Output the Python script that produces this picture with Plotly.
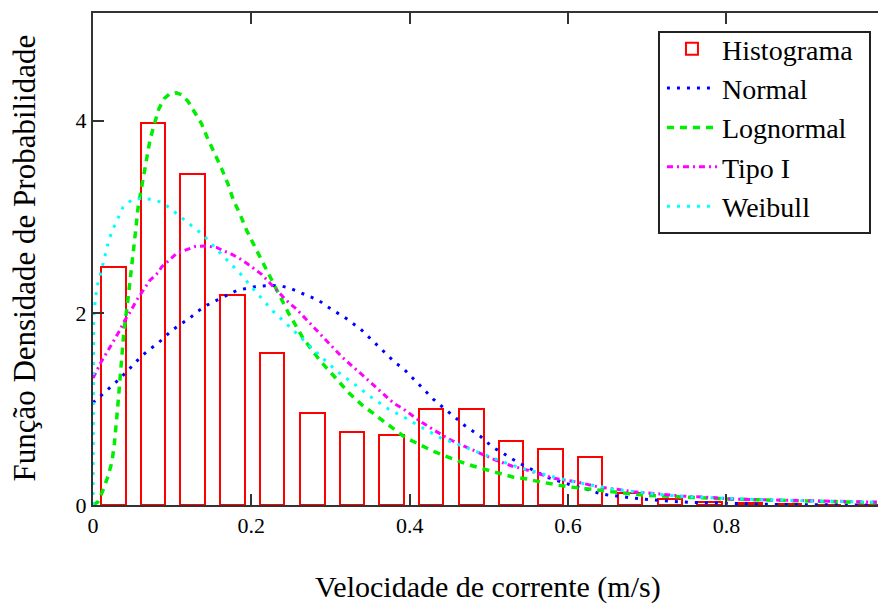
import plotly.graph_objects as go

# ---- Histogram (bin centers / densities) ----
bin_centers = [0.026, 0.076, 0.126, 0.176, 0.226, 0.277, 0.327, 0.377, 0.427, 0.478,
               0.528, 0.578, 0.628, 0.678, 0.729, 0.779, 0.829, 0.879, 0.929, 0.980]
hist_density = [2.48, 3.98, 3.44, 2.185, 1.585, 0.954, 0.763, 0.728, 0.999, 0.999,
                0.666, 0.583, 0.503, 0.125, 0.06, 0.028, 0.026, 0.01, 0.005, 0.005]
bin_width = 0.031

# ---- Normal ----
normal_x = [0.0, 0.009, 0.019, 0.032, 0.044, 0.059, 0.07, 0.083, 0.1, 0.111, 0.123, 0.133,
            0.144, 0.156, 0.169, 0.181, 0.194, 0.207, 0.224, 0.237, 0.249, 0.262, 0.275,
            0.285, 0.295, 0.307, 0.32, 0.338, 0.348, 0.37, 0.382, 0.392, 0.399, 0.408,
            0.421, 0.43, 0.437, 0.451, 0.459, 0.469, 0.48, 0.49, 0.498, 0.507, 0.517,
            0.527, 0.54, 0.55, 0.559, 0.573, 0.588, 0.6, 0.611, 0.624, 0.636, 0.649,
            0.664, 0.679, 0.691, 0.708, 0.733, 0.754, 0.784, 0.818, 0.86, 0.9, 0.95, 0.99]
normal_y = [1.065, 1.13, 1.2, 1.3, 1.4, 1.53, 1.61, 1.69, 1.82, 1.88, 1.95, 2.02,
            2.08, 2.13, 2.185, 2.23, 2.255, 2.275, 2.285, 2.28, 2.255, 2.21, 2.17,
            2.13, 2.07, 2.01, 1.94, 1.83, 1.75, 1.57, 1.48, 1.42, 1.36, 1.28,
            1.17, 1.1, 1.05, 0.96, 0.9, 0.83, 0.77, 0.71, 0.65, 0.59, 0.545,
            0.49, 0.43, 0.39, 0.35, 0.29, 0.25, 0.218, 0.19, 0.163, 0.13, 0.106,
            0.088, 0.076, 0.064, 0.05, 0.036, 0.028, 0.02, 0.012, 0.006, 0.003, 0.001, 0.0]

# ---- Lognormal ----
lognormal_x = [0.0, 0.006, 0.012, 0.019, 0.024, 0.027, 0.031, 0.034, 0.036, 0.039, 0.044,
               0.048, 0.053, 0.057, 0.061, 0.065, 0.068, 0.072, 0.077, 0.083, 0.09, 0.097,
               0.105, 0.112, 0.12, 0.127, 0.137, 0.144, 0.154, 0.163, 0.171, 0.177, 0.186,
               0.194, 0.203, 0.213, 0.221, 0.239, 0.248, 0.256, 0.265, 0.275, 0.286,
               0.299, 0.312, 0.324, 0.34, 0.354, 0.367, 0.381, 0.394, 0.411, 0.428,
               0.445, 0.46, 0.48, 0.498, 0.514, 0.53, 0.548, 0.565, 0.584, 0.6, 0.622,
               0.641, 0.66, 0.679, 0.7, 0.733, 0.776, 0.81, 0.834, 0.885, 0.931, 0.99]
lognormal_y = [0.0, 0.03, 0.14, 0.3, 0.45, 0.64, 1.0, 1.3, 1.49, 1.8, 2.13,
               2.46, 2.79, 3.1, 3.3, 3.47, 3.62, 3.8, 3.95, 4.12, 4.23, 4.28,
               4.29, 4.27, 4.2, 4.11, 3.97, 3.83, 3.66, 3.49, 3.33, 3.18, 3.02,
               2.86, 2.71, 2.55, 2.41, 2.12, 1.98, 1.87, 1.74, 1.63, 1.51,
               1.39, 1.27, 1.16, 1.04, 0.954, 0.867, 0.78, 0.704, 0.635, 0.565,
               0.51, 0.461, 0.406, 0.36, 0.328, 0.292, 0.27, 0.24, 0.211, 0.19, 0.17,
               0.149, 0.133, 0.116, 0.1, 0.086, 0.07, 0.06, 0.055, 0.045, 0.034, 0.024]

# ---- Tipo I ----
tipo1_x = [0.0, 0.011, 0.017, 0.026, 0.034, 0.04, 0.047, 0.055, 0.064, 0.072, 0.08, 0.087,
           0.106, 0.118, 0.129, 0.144, 0.156, 0.165, 0.175, 0.186, 0.195, 0.213, 0.23,
           0.243, 0.258, 0.274, 0.287, 0.299, 0.3145, 0.3355, 0.352, 0.369, 0.38, 0.392,
           0.411, 0.432, 0.452, 0.4715, 0.491, 0.51, 0.529, 0.548, 0.565, 0.584, 0.611,
           0.637, 0.662, 0.683, 0.717, 0.742, 0.776, 0.81, 0.851, 0.902, 0.96, 0.99]
tipo1_y = [1.32, 1.5, 1.58, 1.7, 1.82, 1.92, 2.01, 2.13, 2.24, 2.34, 2.4, 2.48,
           2.62, 2.66, 2.69, 2.695, 2.68, 2.645, 2.61, 2.56, 2.51, 2.4, 2.255,
           2.14, 2.03, 1.89, 1.77, 1.665, 1.54, 1.387, 1.266, 1.134, 1.058, 1.0,
           0.884, 0.773, 0.676, 0.603, 0.53, 0.461, 0.406, 0.365, 0.32, 0.275, 0.24,
           0.19, 0.163, 0.138, 0.114, 0.094, 0.08, 0.062, 0.054, 0.043, 0.034, 0.03]

# ---- Weibull ----
weibull_x = [0.0, 0.0008, 0.003, 0.006, 0.011, 0.0155, 0.02, 0.0257, 0.032, 0.038, 0.0497,
             0.061, 0.074, 0.0867, 0.097, 0.106, 0.116, 0.128, 0.139, 0.154, 0.174, 0.188,
             0.199, 0.211, 0.227, 0.245, 0.261, 0.277, 0.29, 0.31, 0.333, 0.35, 0.373,
             0.396, 0.421, 0.441, 0.464, 0.481, 0.502, 0.521, 0.538, 0.557, 0.573, 0.59,
             0.607, 0.626, 0.645, 0.662, 0.683, 0.704, 0.725, 0.746, 0.776, 0.805, 0.843,
             0.902, 0.944, 0.99]
weibull_y = [0.0, 1.95, 2.15, 2.3, 2.45, 2.62, 2.76, 2.88, 3.0, 3.1, 3.18,
             3.19, 3.18, 3.15, 3.09, 3.03, 2.97, 2.89, 2.81, 2.68, 2.51, 2.39,
             2.28, 2.17, 2.02, 1.88, 1.75, 1.63, 1.53, 1.38, 1.24, 1.13, 1.0,
             0.9, 0.78, 0.69, 0.62, 0.565, 0.496, 0.44, 0.39, 0.347, 0.31, 0.274,
             0.243, 0.21, 0.184, 0.158, 0.138, 0.116, 0.102, 0.088, 0.076, 0.066, 0.055,
             0.043, 0.034, 0.028]

x_ticks = [0, 0.2, 0.4, 0.6, 0.8]
x_tick_labels = ["0", "0.2", "0.4", "0.6", "0.8"]
y_ticks = [0, 2, 4]
y_tick_labels = ["0", "2", "4"]

FONT = "Liberation Serif"

fig = go.Figure()
fig.add_trace(go.Bar(
    x=bin_centers, y=hist_density, width=bin_width, name="Histograma",
    marker=dict(color="rgba(0,0,0,0)", line=dict(color="#ff0000", width=2)),
))
fig.add_trace(go.Scatter(x=normal_x, y=normal_y, mode="lines", name="Normal",
                         line=dict(color="#0000ff", width=3, dash="3px,7px")))
fig.add_trace(go.Scatter(x=lognormal_x, y=lognormal_y, mode="lines", name="Lognormal",
                         line=dict(color="#00ee00", width=3.5, dash="7px,6px")))
fig.add_trace(go.Scatter(x=tipo1_x, y=tipo1_y, mode="lines", name="Tipo I",
                         line=dict(color="#ff00ff", width=3, dash="6px,4px,2px,4px")))
fig.add_trace(go.Scatter(x=weibull_x, y=weibull_y, mode="lines", name="Weibull",
                         line=dict(color="#00ffff", width=3, dash="3px,7px")))

axis_common = dict(showgrid=False, zeroline=False, showline=True, linecolor="#333333",
                   linewidth=2, ticks="inside", ticklen=11, tickwidth=2, tickcolor="#333333",
                   tickfont=dict(family=FONT, size=22, color="black"))

fig.update_layout(
    width=878, height=608,
    margin=dict(l=93, r=0, t=13, b=103),
    paper_bgcolor="white", plot_bgcolor="white",
    font=dict(family=FONT, color="black"),
    bargap=0,
    showlegend=True,
    legend=dict(x=0.7248, y=0.9777, xanchor="left", yanchor="top",
                bgcolor="rgba(0,0,0,0)", borderwidth=0,
                font=dict(family=FONT, size=28, color="black"),
                itemwidth=50, tracegroupgap=0),
    xaxis=dict(range=[0, 0.9915], tickvals=x_ticks, ticktext=x_tick_labels,
               mirror="ticks", **axis_common),
    yaxis=dict(range=[0, 5.12], tickvals=y_ticks, ticktext=y_tick_labels,
               mirror=False, **axis_common),
    shapes=[
        dict(type="rect", xref="paper", yref="paper", x0=0.721, x1=0.9898,
             y0=0.5528, y1=0.9614, layer="above", fillcolor="white",
             line=dict(color="#222222", width=2)),
    ],
    annotations=[
        dict(text="Velocidade de corrente (m/s)", xref="paper", yref="paper",
             x=0.503, y=-0.1667, xanchor="center", yanchor="middle", showarrow=False,
             font=dict(family=FONT, size=30, color="black")),
        dict(text="Função Densidade de Probabilidade", xref="paper", yref="paper",
             x=-0.0885, y=0.502, xanchor="center", yanchor="middle", showarrow=False,
             textangle=-90, font=dict(family=FONT, size=31, color="black")),
    ],
)

fig.write_html("out.html")
